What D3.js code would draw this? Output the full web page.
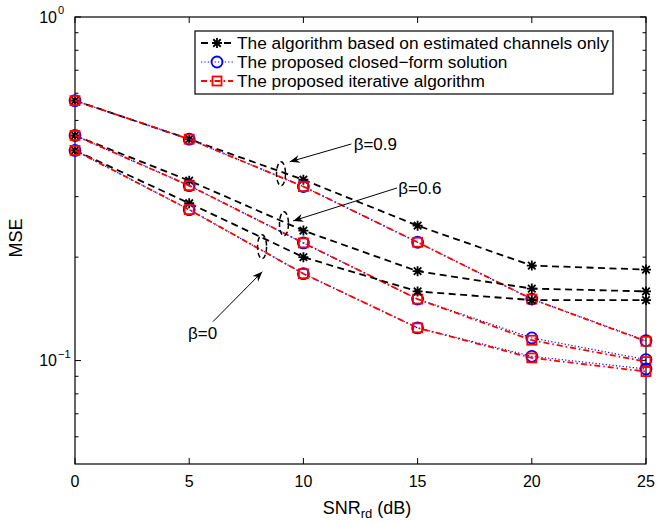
<!DOCTYPE html>
<html>
<head>
<meta charset="utf-8">
<script src="https://cdn.jsdelivr.net/npm/d3@7"></script>
<style>
  html, body { margin: 0; padding: 0; background: #fff; }
  svg { display: block; font-family: "Liberation Sans", Arial, Helvetica, sans-serif; }
</style>
</head>
<body>
<svg id="chart" width="659" height="523"></svg>
<script>
// ---------- data ----------
const snr = [0, 5, 10, 15, 20, 25];
const xTicks = [0, 5, 10, 15, 20, 25];

// The algorithm based on estimated channels only
const estBeta09 = [0.571, 0.441, 0.336, 0.247, 0.189, 0.184];
const estBeta06 = [0.452, 0.334, 0.239, 0.182, 0.162, 0.159];
const estBeta0  = [0.409, 0.287, 0.200, 0.159, 0.150, 0.150];
// The proposed closed-form solution
const cfBeta09 = [0.571, 0.441, 0.321, 0.221, 0.151, 0.1143];
const cfBeta06 = [0.452, 0.323, 0.220, 0.151, 0.1164, 0.1007];
const cfBeta0  = [0.409, 0.275, 0.179, 0.1245, 0.1029, 0.0945];
// The proposed iterative algorithm
const itBeta09 = [0.571, 0.441, 0.321, 0.221, 0.151, 0.1138];
const itBeta06 = [0.452, 0.323, 0.220, 0.151, 0.1146, 0.0993];
const itBeta0  = [0.409, 0.275, 0.179, 0.1245, 0.1018, 0.0929];

const legendLabels = [
  "The algorithm based on estimated channels only",
  "The proposed closed\u2212form solution",
  "The proposed iterative algorithm"
];

// annotation anchors in data units [snr, mse]
const annLabels   = ["\u03b2=0.9", "\u03b2=0.6", "\u03b2=0"];
const annText     = [[12.2, 0.4107], [14.15, 0.3058], [4.95, 0.1159]];
const annTail     = [[12.1, 0.427], [14.1, 0.318], [6.04, 0.1298]];
const annHead     = [[9.4, 0.379], [9.55, 0.255], [8.2, 0.1814]];
const annEllipse  = [[9.02, 0.3497], [9.15, 0.250], [8.19, 0.2145]];

// ---------- setup ----------
const svg = d3.select("#chart");
const x = d3.scaleLinear().domain([0, 25]).range([75, 646]);
const y = d3.scaleLog().domain([0.05, 1]).range([464, 17]);

const methods = [
  { name: legendLabels[0], series: [estBeta09, estBeta06, estBeta0], color: "#000000", width: 1.8, dash: "7,4.5", marker: "star" },
  { name: legendLabels[1], series: [cfBeta09, cfBeta06, cfBeta0],   color: "#0000ff", width: 1.2, dash: "1.2,2.2", marker: "circle" },
  { name: legendLabels[2], series: [itBeta09, itBeta06, itBeta0],   color: "#ff0000", width: 1.8, dash: "6,3,1.5,3", marker: "square" }
];

const x0 = x.range()[0], x1 = x.range()[1];
const yTop = y.range()[1], yBot = y.range()[0];

// ---------- axes frame & ticks ----------
const gAxes = svg.append("g");
gAxes.append("rect")
  .attr("x", x0).attr("y", yTop).attr("width", x1 - x0).attr("height", yBot - yTop)
  .attr("fill", "none").attr("stroke", "#000").attr("stroke-width", 1.2);

xTicks.forEach(t => {
  gAxes.append("line").attr("x1", x(t)).attr("x2", x(t)).attr("y1", yBot).attr("y2", yBot - 6)
    .attr("stroke", "#000").attr("stroke-width", 1);
  gAxes.append("line").attr("x1", x(t)).attr("x2", x(t)).attr("y1", yTop).attr("y2", yTop + 6)
    .attr("stroke", "#000").attr("stroke-width", 1);
  gAxes.append("text").attr("x", x(t)).attr("y", 487).attr("text-anchor", "middle")
    .attr("font-size", 16).text(t);
});

const yMajor = [0.1, 1];
const yMinor = [0.06, 0.07, 0.08, 0.09, 0.2, 0.3, 0.4, 0.5, 0.6, 0.7, 0.8, 0.9];
yMajor.forEach(v => {
  gAxes.append("line").attr("x1", x0).attr("x2", x0 + 6).attr("y1", y(v)).attr("y2", y(v)).attr("stroke", "#000");
  gAxes.append("line").attr("x1", x1).attr("x2", x1 - 6).attr("y1", y(v)).attr("y2", y(v)).attr("stroke", "#000");
  const exp = Math.round(Math.log10(v));
  gAxes.append("text").attr("x", 57).attr("y", y(v) + 5.5).attr("text-anchor", "end").attr("font-size", 16).text("10");
  const sup = exp < 0 ? "\u2212" + (-exp) : String(exp);
  gAxes.append("text").attr("x", 58).attr("y", y(v) - 3).attr("text-anchor", "start").attr("font-size", 11).text(sup);
});
yMinor.forEach(v => {
  gAxes.append("line").attr("x1", x0).attr("x2", x0 + 3.5).attr("y1", y(v)).attr("y2", y(v)).attr("stroke", "#000");
  gAxes.append("line").attr("x1", x1).attr("x2", x1 - 3.5).attr("y1", y(v)).attr("y2", y(v)).attr("stroke", "#000");
});

// axis labels
const xl = svg.append("text").attr("x", 367).attr("y", 514).attr("text-anchor", "middle").attr("font-size", 18);
xl.append("tspan").text("SNR");
xl.append("tspan").attr("font-size", 13).attr("dy", 4).text("rd");
xl.append("tspan").attr("dy", -4).text(" (dB)");

svg.append("text").attr("transform", "translate(22,238) rotate(-90)")
  .attr("text-anchor", "middle").attr("font-size", 18).text("MSE");

// ---------- markers ----------
function drawMarker(g, type, cx, cy, color) {
  if (type === "star") {
    const r = 5;
    const d = `M${cx - r},${cy}L${cx + r},${cy}M${cx},${cy - r}L${cx},${cy + r}` +
      `M${cx - r * 0.75},${cy - r * 0.75}L${cx + r * 0.75},${cy + r * 0.75}` +
      `M${cx - r * 0.75},${cy + r * 0.75}L${cx + r * 0.75},${cy - r * 0.75}`;
    g.append("path").attr("d", d).attr("stroke", color).attr("stroke-width", 1.8).attr("fill", "none");
  } else if (type === "circle") {
    g.append("circle").attr("cx", cx).attr("cy", cy).attr("r", 5.5)
      .attr("fill", "none").attr("stroke", color).attr("stroke-width", 1.8);
  } else {
    g.append("rect").attr("x", cx - 4.5).attr("y", cy - 4.5).attr("width", 9).attr("height", 9)
      .attr("fill", "none").attr("stroke", color).attr("stroke-width", 1.8);
  }
}

// ---------- series ----------
const line = d3.line().x((d, i) => x(snr[i])).y(d => y(d));
const gPlot = svg.append("g");
[0, 1, 2].forEach(b => {
  methods.forEach(m => {
    const vals = m.series[b];
    gPlot.append("path").attr("d", line(vals))
      .attr("fill", "none").attr("stroke", m.color).attr("stroke-width", m.width)
      .attr("stroke-dasharray", m.dash);
    vals.forEach((v, i) => drawMarker(gPlot, m.marker, x(snr[i]), y(v), m.color));
  });
});

// ---------- annotations ----------
const gAnn = svg.append("g");
annLabels.forEach((lab, i) => {
  const [ex, ey] = annEllipse[i];
  gAnn.append("ellipse").attr("cx", x(ex)).attr("cy", y(ey)).attr("rx", 4.5).attr("ry", 12)
    .attr("fill", "none").attr("stroke", "#000").attr("stroke-width", 1.5).attr("stroke-dasharray", "5,3");
  const tx = x(annTail[i][0]), ty = y(annTail[i][1]);
  const hx = x(annHead[i][0]), hy = y(annHead[i][1]);
  gAnn.append("line").attr("x1", tx).attr("y1", ty).attr("x2", hx).attr("y2", hy)
    .attr("stroke", "#000").attr("stroke-width", 1);
  const ang = Math.atan2(hy - ty, hx - tx);
  const L = 10, Wd = 4, back = 7;
  const p1 = [hx - L * Math.cos(ang) + Wd * Math.sin(ang), hy - L * Math.sin(ang) - Wd * Math.cos(ang)];
  const p2 = [hx - L * Math.cos(ang) - Wd * Math.sin(ang), hy - L * Math.sin(ang) + Wd * Math.cos(ang)];
  const p3 = [hx - back * Math.cos(ang), hy - back * Math.sin(ang)];
  gAnn.append("path").attr("d", `M${hx},${hy}L${p1[0]},${p1[1]}L${p3[0]},${p3[1]}L${p2[0]},${p2[1]}Z`)
    .attr("fill", "#000");
  gAnn.append("text").attr("x", x(annText[i][0])).attr("y", y(annText[i][1]))
    .attr("font-size", 17).attr("text-anchor", "start").text(lab);
});

// ---------- legend ----------
const gLeg = svg.append("g");
gLeg.append("rect").attr("x", 195).attr("y", 31).attr("width", 418).attr("height", 63)
  .attr("fill", "#fff").attr("stroke", "#000").attr("stroke-width", 1.2);
methods.forEach((m, i) => {
  const cy = 43 + i * 19;
  gLeg.append("line").attr("x1", 201).attr("x2", 233).attr("y1", cy).attr("y2", cy)
    .attr("stroke", m.color).attr("stroke-width", m.width).attr("stroke-dasharray", m.dash);
  drawMarker(gLeg, m.marker, 217, cy, m.color);
  gLeg.append("text").attr("x", 237).attr("y", cy + 6).attr("font-size", 17.3).text(m.name);
});
</script>
</body>
</html>
